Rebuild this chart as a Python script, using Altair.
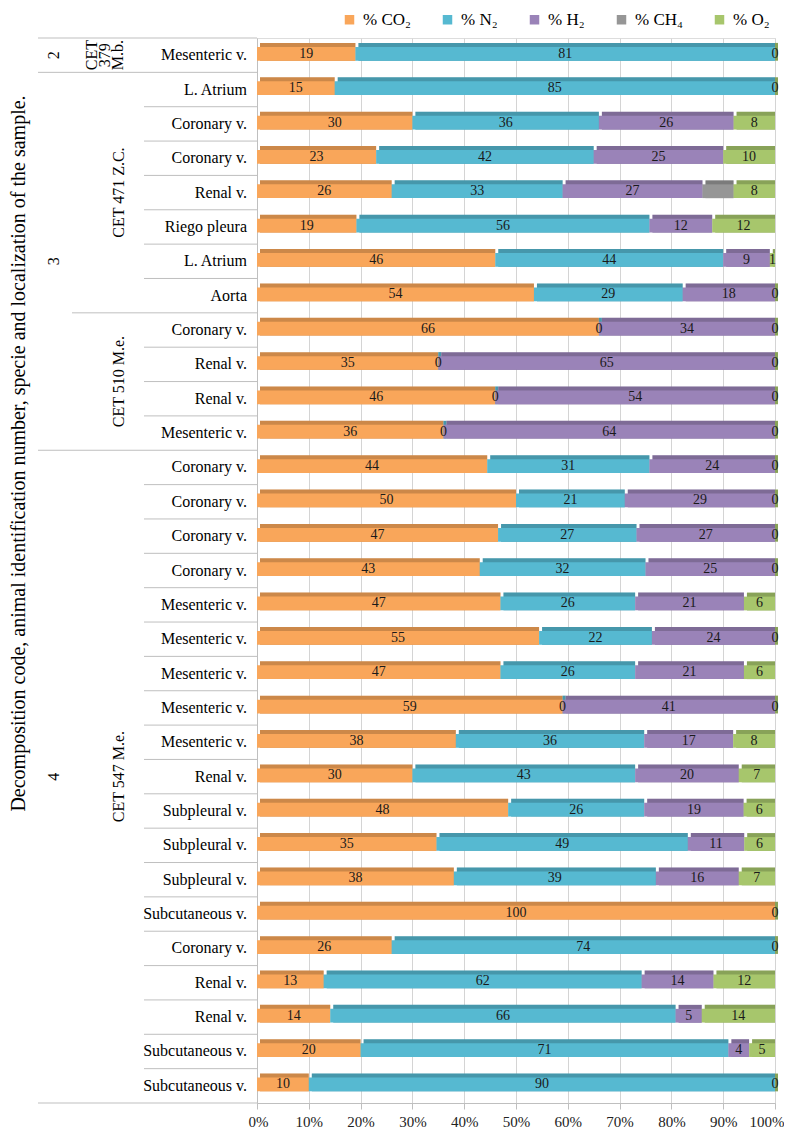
import altair as alt
import pandas as pd

# ---------------- data ----------------
decomp = ["2"] + ["3"] * 11 + ["4"] * 19
animal = (["CET\n379\nM.b."] + ["CET 471 Z.C."] * 7 + ["CET 510 M.e."] * 4
          + ["CET 547 M.e."] * 19)
location = ["Mesenteric v.", "L. Atrium", "Coronary v.", "Coronary v.", "Renal v.",
            "Riego pleura", "L. Atrium", "Aorta", "Coronary v.", "Renal v.", "Renal v.",
            "Mesenteric v.", "Coronary v.", "Coronary v.", "Coronary v.", "Coronary v.",
            "Mesenteric v.", "Mesenteric v.", "Mesenteric v.", "Mesenteric v.",
            "Mesenteric v.", "Renal v.", "Subpleural v.", "Subpleural v.", "Subpleural v.",
            "Subcutaneous v.", "Coronary v.", "Renal v.", "Renal v.", "Subcutaneous v.",
            "Subcutaneous v."]
co2 = [19, 15, 30, 23, 26, 19, 46, 54, 66, 35, 46, 36, 44, 50, 47, 43, 47, 55, 47, 59,
       38, 30, 48, 35, 38, 100, 26, 13, 14, 20, 10]
n2 = [81, 85, 36, 42, 33, 56, 44, 29, 0, 0, 0, 0, 31, 21, 27, 32, 26, 22, 26, 0,
      36, 43, 26, 49, 39, None, 74, 62, 66, 71, 90]
h2 = [None, None, 26, 25, 27, 12, 9, 18, 34, 65, 54, 64, 24, 29, 27, 25, 21, 24, 21, 41,
      17, 20, 19, 11, 16, None, None, 14, 5, 4, None]
ch4 = [None, None, None, None, 6] + [None] * 26
o2 = [0, 0, 8, 10, 8, 12, 1, 0, 0, 0, 0, 0, 0, 0, 0, 0, 6, 0, 6, 0,
      8, 7, 6, 6, 7, 0, 0, 12, 14, 5, 0]

series_names = ["% CO₂", "% N₂", "% H₂", "% CH₄", "% O₂"]
series_vals = [co2, n2, h2, ch4, o2]
series_labelled = [True, True, True, False, True]
colors = ["#F9A65A", "#56B9D1", "#9A83B8", "#969696", "#A7C66C"]
x_ticks = [0, 0.1, 0.2, 0.3, 0.4, 0.5, 0.6, 0.7, 0.8, 0.9, 1.0]

# ---------------- tables ----------------
recs = []
for i in range(len(location)):
    for k, (nm, arr, lab) in enumerate(zip(series_names, series_vals, series_labelled)):
        v = arr[i]
        if v is None:
            continue
        recs.append({"r": i, "series": nm, "value": v, "order": k,
                     "lab": str(v), "show": lab})
bars = pd.DataFrame(recs)

rows = pd.DataFrame({"r": list(range(len(location))), "loc": location})


def group_centers(keys):
    out = []
    start = 0
    for i in range(1, len(keys) + 1):
        if i == len(keys) or keys[i] != keys[start]:
            out.append({"r": (start + i - 1) / 2, "name": keys[start],
                        "multi": "\n" in keys[start]})
            start = i
    return pd.DataFrame(out)


anim_df = group_centers(animal)
dec_df = group_centers(decomp)

# boundaries between rows, with their hierarchy level
bnd = []
n = len(location)
for b in range(-1, n):
    if b == -1 or b == n - 1 or decomp[b] != decomp[b + 1]:
        lvl = "dec"
    elif animal[b] != animal[b + 1]:
        lvl = "ani"
    else:
        lvl = "loc"
    bnd.append({"r": b + 0.5, "lvl": lvl})
bnd_df = pd.DataFrame(bnd)

# ---------------- chart ----------------
W, H = 518, 1065
FONT = "Liberation Serif"

yscale = alt.Scale(domain=[-0.5, n - 0.5], reverse=True, nice=False, zero=False)
yaxis = alt.Axis(labels=False, ticks=False, grid=False, domain=True, domainColor="#BFBFBF",
                 title="Decomposition code, animal identification number, specie and localization of the sample.",
                 titleFont=FONT, titleFontSize=20, titleFontWeight="normal", titleColor="#000000",
                 titleX=-239, titleY=415, titleAngle=270, titleAlign="center",
                 titleBaseline="middle")
yenc = alt.Y("r:Q", scale=yscale, axis=yaxis)

xscale = alt.Scale(domain=[0, 1], nice=False)
xaxis = alt.Axis(values=x_ticks, format=".0%", title=None, grid=True, gridColor="#D4D4D4",
                 labelFont=FONT, labelFontSize=15, labelColor="#222222", labelPadding=5,
                 labelFlush=True, labelFlushOffset=9,
                 tickColor="#BFBFBF", tickSize=6, domainColor="#BFBFBF")

color = alt.Color("series:N", scale=alt.Scale(domain=series_names, range=colors),
                  legend=alt.Legend(orient="none", legendX=84, legendY=-27,
                                    direction="horizontal", title=None,
                                    symbolType="square", symbolSize=90,
                                    symbolStrokeWidth=0, labelFont=FONT,
                                    labelFontSize=17, labelColor="#000000",
                                    columnPadding=28, labelOffset=5))

base = alt.Chart(bars).transform_stack(
    stack="value", groupby=["r"], as_=["x0", "x1"], offset="normalize",
    sort=[alt.SortField("order", order="ascending")]
).transform_calculate(
    ylo="datum.r - 0.24", yhi="datum.r + 0.16", xm="(datum.x0 + datum.x1) / 2",
    ym="datum.r - 0.04"
)

xenc = alt.X("x0:Q", scale=xscale, axis=xaxis)
ybar = alt.Y("ylo:Q", scale=yscale, axis=yaxis)

back = base.mark_rect(xOffset=3, yOffset=-4).encode(
    x=xenc, x2="x1:Q", y=ybar, y2="yhi:Q", color=color)
back_dark = base.mark_rect(xOffset=3, yOffset=-4, color="#000000", opacity=0.18).encode(
    x=xenc, x2="x1:Q", y=ybar, y2="yhi:Q")
face = base.mark_rect().encode(
    x=xenc, x2="x1:Q", y=ybar, y2="yhi:Q", color=color)
labels = base.transform_filter("datum.show").mark_text(
    font=FONT, fontSize=14, color="#1a1a1a", baseline="middle", align="center"
).encode(x=alt.X("xm:Q", scale=xscale, axis=xaxis),
         y=alt.Y("ym:Q", scale=yscale, axis=yaxis), text="lab:N")

row_text = alt.Chart(rows).mark_text(
    font=FONT, fontSize=16, color="#000000", align="right", baseline="middle"
).encode(x=alt.value(-10), y=yenc, text="loc:N")

anim_single = alt.Chart(anim_df).transform_filter("!datum.multi").mark_text(
    font=FONT, fontSize=16, color="#000000", align="center", baseline="middle", angle=270
).encode(x=alt.value(-138), y=yenc, text="name:N")

anim_multi = alt.Chart(anim_df).transform_filter("datum.multi").mark_text(
    font=FONT, fontSize=16, color="#000000", align="center", baseline="middle",
    angle=270, lineBreak="\n", lineHeight=13
).encode(x=alt.value(-165), y=yenc, text="name:N")

dec_text = alt.Chart(dec_df).mark_text(
    font=FONT, fontSize=16, color="#000000", align="center", baseline="middle", angle=270
).encode(x=alt.value(-203), y=yenc, text="name:N")

rule_style = dict(color="#BFBFBF", strokeWidth=1)
rules = []
for lvl, x_start in [("loc", -113), ("ani", -185), ("dec", -219)]:
    rules.append(alt.Chart(bnd_df).transform_filter(f"datum.lvl == '{lvl}'").mark_rule(
        **rule_style).encode(x=alt.value(x_start), x2=alt.value(0), y=yenc))

chart = alt.layer(back, back_dark, face, labels, row_text, anim_single, anim_multi,
                  dec_text, *rules).properties(
    width=W, height=H, padding={"left": 0, "top": 3, "right": 0, "bottom": 0}
).configure_view(stroke=None).configure(font=FONT)

chart.save("out.html", embed_options={"renderer": "svg", "actions": False})
